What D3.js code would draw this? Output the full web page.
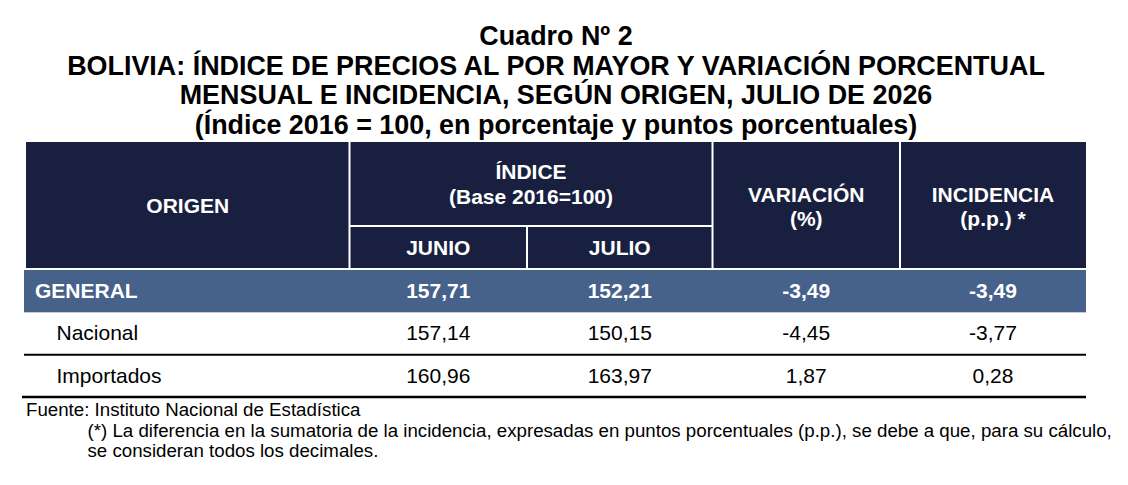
<!DOCTYPE html>
<html>
<head>
  <meta charset="utf-8" />
  <title>Cuadro Nº 2 - Índice de precios al por mayor</title>
  <script src="https://d3js.org/d3.v7.min.js"></script>
  <style>
    body { margin: 0; background: #fff; }
    svg { display: block; font-family: "Liberation Sans", Arial, sans-serif; }
    .title { font-weight: bold; font-size: 26.9px; fill: #000; }
    .head { font-weight: bold; font-size: 21px; fill: #fff; }
    .cell { font-size: 21px; fill: #000; }
    .cell.general { font-weight: bold; fill: #fff; }
    .note { font-size: 18.7px; fill: #000; }
  </style>
</head>
<body>
  <svg width="1128" height="485"></svg>

  <script>
    // data
    const titleLines = [
      "Cuadro Nº 2",
      "BOLIVIA: ÍNDICE DE PRECIOS AL POR MAYOR Y VARIACIÓN PORCENTUAL",
      "MENSUAL E INCIDENCIA, SEGÚN ORIGEN, JULIO DE 2026",
      "(Índice 2016 = 100, en porcentaje y puntos porcentuales)"
    ];
    const origins = ["GENERAL", "Nacional", "Importados"];
    const junio = [157.71, 157.14, 160.96];
    const julio = [152.21, 150.15, 163.97];
    const variacion = [-3.49, -4.45, 1.87];
    const incidencia = [-3.49, -3.77, 0.28];
    const noteLines = [
      "Fuente: Instituto Nacional de Estadística",
      "(*) La diferencia en la sumatoria de la incidencia, expresadas en puntos porcentuales (p.p.), se debe a que, para su cálculo,",
      "se consideran todos los decimales."
    ];

    const svg = d3.select("svg");
    const navy = "#19203f";
    const steel = "#46618a";

    // column edges
    const colKeys = ["origen", "junio", "julio", "variacion", "incidencia"];
    const colLeft = d3.scaleOrdinal().domain(colKeys).range([26, 349.5, 527, 712.5, 900]);
    const colRight = d3.scaleOrdinal().domain(colKeys).range([349.5, 527, 712.5, 900, 1086]);
    const colMid = k => (colLeft(k) + colRight(k)) / 2;
    const tableRight = 1086;

    // rows
    const y = d3.scaleBand().domain(origins).range([270, 397]);

    const fmt = d3.formatLocale({ decimal: ",", thousands: ".", grouping: [3], currency: ["", ""], minus: "-" }).format(".2f");

    // title
    svg.selectAll("text.title").data(titleLines).join("text")
      .attr("class", "title")
      .attr("x", 556)
      .attr("y", (d, i) => 45 + i * 29.7)
      .attr("text-anchor", "middle")
      .text(d => d);

    // header block
    const headTop = 142, headSplit = 226, headBottom = 268;
    svg.append("rect")
      .attr("x", colLeft("origen")).attr("y", headTop)
      .attr("width", tableRight - colLeft("origen")).attr("height", headBottom - headTop)
      .attr("fill", navy);

    const white = svg.append("g").attr("stroke", "#fff").attr("stroke-width", 2);
    ["junio", "variacion", "incidencia"].forEach(k => {
      white.append("line")
        .attr("x1", colLeft(k)).attr("x2", colLeft(k))
        .attr("y1", headTop).attr("y2", headBottom);
    });
    white.append("line")
      .attr("x1", colLeft("julio")).attr("x2", colLeft("julio"))
      .attr("y1", headSplit).attr("y2", headBottom);
    white.append("line")
      .attr("x1", colLeft("junio")).attr("x2", colRight("julio"))
      .attr("y1", headSplit).attr("y2", headSplit);

    const heads = [
      { x: colMid("origen"), y: 213, t: "ORIGEN" },
      { x: (colLeft("junio") + colRight("julio")) / 2, y: 178.5, t: "ÍNDICE" },
      { x: (colLeft("junio") + colRight("julio")) / 2, y: 203.5, t: "(Base 2016=100)" },
      { x: colMid("junio"), y: 255, t: "JUNIO" },
      { x: colMid("julio"), y: 255, t: "JULIO" },
      { x: colMid("variacion"), y: 201.5, t: "VARIACIÓN" },
      { x: colMid("variacion"), y: 225.5, t: "(%)" },
      { x: colMid("incidencia"), y: 201.5, t: "INCIDENCIA" },
      { x: colMid("incidencia"), y: 225.5, t: "(p.p.) *" }
    ];
    svg.selectAll("text.head").data(heads).join("text")
      .attr("class", "head")
      .attr("x", d => d.x).attr("y", d => d.y)
      .attr("text-anchor", "middle")
      .text(d => d.t);

    // general row background
    svg.append("rect")
      .attr("x", 24).attr("y", y("GENERAL"))
      .attr("width", tableRight - 24).attr("height", y.bandwidth())
      .attr("fill", steel);

    // row rules
    svg.append("line")
      .attr("x1", 24).attr("x2", tableRight)
      .attr("y1", y("Importados")).attr("y2", y("Importados"))
      .attr("stroke", "#000").attr("stroke-width", 2);
    svg.append("line")
      .attr("x1", 22).attr("x2", tableRight)
      .attr("y1", y.range()[1]).attr("y2", y.range()[1])
      .attr("stroke", "#000").attr("stroke-width", 2.5);

    // cells
    const rows = origins.map((o, i) => ({
      origin: o, junio: junio[i], julio: julio[i], variacion: variacion[i], incidencia: incidencia[i]
    }));
    const base = d => y(d.origin) + y.bandwidth() * 0.66;
    const rowG = svg.selectAll("g.row").data(rows).join("g").attr("class", "row");

    rowG.append("text")
      .attr("class", d => d.origin === "GENERAL" ? "cell general" : "cell")
      .attr("x", d => d.origin === "GENERAL" ? 35 : 56.5)
      .attr("y", base)
      .text(d => d.origin);

    ["junio", "julio", "variacion", "incidencia"].forEach(k => {
      rowG.append("text")
        .attr("class", d => d.origin === "GENERAL" ? "cell general" : "cell")
        .attr("x", colMid(k))
        .attr("y", base)
        .attr("text-anchor", "middle")
        .text(d => fmt(d[k]));
    });

    // notes
    svg.selectAll("text.note").data(noteLines).join("text")
      .attr("class", "note")
      .attr("x", (d, i) => i === 0 ? 26 : 87.5)
      .attr("y", (d, i) => 416 + i * 20.5)
      .text(d => d);
  </script>
</body>
</html>
